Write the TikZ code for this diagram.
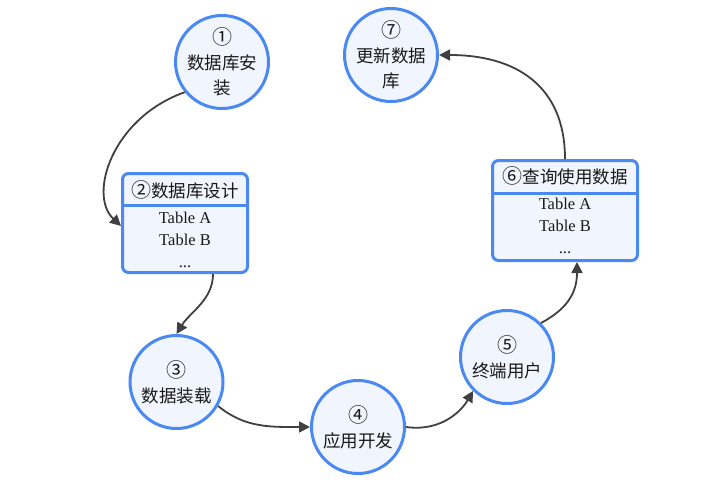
\documentclass[tikz,border=0pt]{standalone}
\usepackage{fontspec}
\newfontfamily\cjk{Noto Sans CJK SC}
\newfontfamily\tserif{Liberation Serif}
\newcommand\cnum[1]{{\fontsize{20}{25}\selectfont #1}}
\usetikzlibrary{arrows.meta}
\definecolor{bord}{HTML}{4A89F3}
\definecolor{fillc}{HTML}{F1F5FE}
\definecolor{edgec}{HTML}{404040}
\begin{document}
\begin{tikzpicture}[x=1pt,y=-1pt,
 circ/.style={circle, draw=bord, fill=fillc, line width=3pt, minimum size=93pt, inner sep=0pt},
 ctext/.style={align=center, inner sep=0pt, font=\cjk\fontsize{17.5}{25}\selectfont, text=black!90},
 tbox/.style={rectangle, rounded corners=6pt, draw=bord, fill=fillc, line width=3pt, inner sep=0pt},
 htext/.style={inner sep=0pt, font=\cjk\fontsize{17.5}{20}\selectfont, text=black!90},
 btext/.style={align=center, inner sep=0pt, font=\tserif\fontsize{16.5}{22}\selectfont, text=black!90},
 sep/.style={draw=bord, line width=3pt},
 conn/.style={draw=edgec, line width=1.8pt, -{Triangle[length=11pt,width=11pt]}}]
\useasboundingbox (0,0) rectangle (704,484);

% circles
\node[circ] (c1) at (222,62) {};
\node[ctext] (c1t) at (c1.center) {\cnum{①}\\数据库安\\装};
\node[circ] (c7) at (391,55) {};
\node[ctext] (c7t) at (c7.center) {\cnum{⑦}\\更新数据\\库};
\node[circ] (c3) at (176.5,382) {};
\node[ctext] (c3t) at (c3.center) {\cnum{③}\\数据装载};
\node[circ] (c4) at (358,427) {};
\node[ctext] (c4t) at (c4.center) {\cnum{④}\\应用开发};
\node[circ] (c5) at (507,357) {};
\node[ctext] (c5t) at (c5.center) {\cnum{⑤}\\终端用户};

% box 2
\node[tbox, minimum width=125pt, minimum height=99pt] (b2) at (185,223) {};
\draw[sep] (b2.west |- 0,205) -- (b2.east |- 0,205);
\node[htext] (b2h) at (185,190) {\cnum{②}数据库设计};
\node[btext] (b2b) at (185,240) {Table A\\Table B\\...};

% box 6
\node[tbox, minimum width=145pt, minimum height=100pt] (b6) at (565,210.5) {};
\draw[sep] (b6.west |- 0,193) -- (b6.east |- 0,193);
\node[htext] (b6h) at (565,176) {\cnum{⑥}查询使用数据};
\node[btext] (b6b) at (565,226) {Table A\\Table B\\...};

% connectors
\draw[conn] (c1.219) .. controls (112,118) and (88,195) .. ([yshift=-3pt]b2.west);
\draw[conn] ([xshift=28pt]b2.south) .. controls (213,300) and (190,312) .. (c3.north);
\draw[conn] (c3.-30) .. controls (245,428) and (270,427) .. (c4.west);
\draw[conn] (c4.east) .. controls (442,432) and (462,410) .. (c5.225);
\draw[conn] (c5.45) .. controls (565,310) and (577,295) .. ([xshift=12pt]b6.south);
\draw[conn] (b6.north) .. controls (565,85) and (515,55) .. (c7.east);
\end{tikzpicture}
\end{document}
